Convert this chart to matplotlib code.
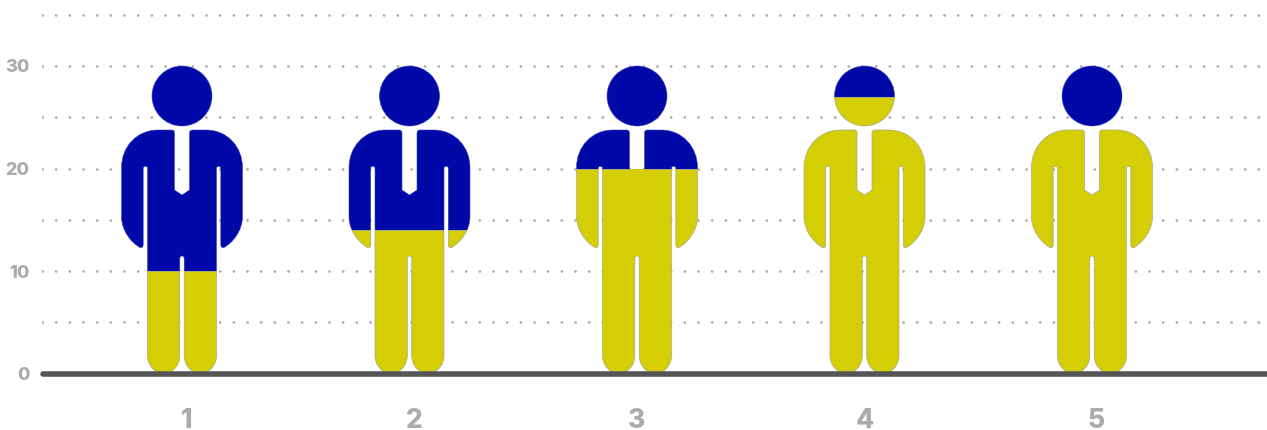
import matplotlib
matplotlib.use('Agg')
import matplotlib.pyplot as plt
from matplotlib.path import Path
from matplotlib.patches import PathPatch, Rectangle
from matplotlib.transforms import Affine2D

# chart data
categories = [1, 2, 3, 4, 5]
values = [10, 14, 20, 27, 24]
y_ticks = [0, 10, 20, 30]
y_minor = [5, 15, 25, 35]

# the tie gap only gets filled in on figure 3 of the reference
filled_gap = [False, False, True, False, False]
# the x labels sit slightly off the figure centres
x_label_pos = [1.02, 2.02, 3.0, 4.0, 5.02]

BLUE = '#0008A8'
YELLOW = '#D5CE04'
GREY_TEXT = '#ABABAB'
SEAM = '#A8A890'

W, H = 1267, 430
LEFT = 42      # pixel where the gridlines start
PX_X = 227.5   # pixels per category
PX_Y = 10.25   # pixels per value unit


# outline of the figure, pixels from the point between the feet
def person_path():
    L, C = Path.LINETO, Path.CURVE4
    half = [
        (L, (7.5, 183.5)), (L, (7.5, 240)),
        (C, (7.5, 242.5)), (C, (8.5, 243.5)), (C, (10.5, 243.5)),
        (L, (24, 243.5)),
        (C, (46, 243.5)), (C, (60.5, 226)), (C, (60.5, 206)),
        (L, (60.5, 157)),
        (C, (60.5, 143)), (C, (51, 131)), (C, (42, 126)),
        (C, (40, 125.5)), (C, (38.8, 126.5)), (C, (38.8, 129)),
        (L, (38.8, 205)),
        (C, (38.8, 208)), (C, (34.5, 208)), (C, (34.5, 205)),
        (L, (34.5, 18)),
        (C, (34.5, 8)), (C, (27, 0)), (C, (18.5, 0)),
        (C, (9.5, 0)), (C, (2.2, 8)), (C, (2.2, 18)),
        (L, (2.2, 114)),
        (C, (2.2, 117.5)), (C, (0.8, 117.5)), (C, (0, 117.5)),
    ]
    verts = [(0, 178.5)] + [p for _, p in half]
    codes = [Path.MOVETO] + [c for c, _ in half]
    # walk back up the left side, mirrored
    back = [(-x, y) for x, y in verts[-2::-1]]
    back_codes = codes[:0:-1]
    body = Path(verts + back + [(0, 178.5)],
                codes + back_codes + [Path.CLOSEPOLY])
    head = Path.circle((0, 277.5), 30)
    return Path.make_compound_path(body, head)


fig = plt.figure(figsize=(W / 100, H / 100), dpi=100)
ax = fig.add_axes([LEFT / W, (H - 373.5) / H, (W - LEFT) / W, 373.5 / H])
ax.set_xlim(1 - (182 - LEFT) / PX_X, 1 + (W - 182) / PX_X)
ax.set_ylim(0, 373.5 / PX_Y)

for s in ax.spines.values():
    s.set_visible(False)

# dotted gridlines
ax.set_yticks(y_ticks)
ax.set_yticks(y_minor, minor=True)
ax.tick_params(axis='y', which='both', length=0)
ax.set_axisbelow(True)
ax.grid(True, axis='y', which='both', color='#ABABAB', linewidth=2.0,
        linestyle=(0, (0.01, 4.91)), dash_capstyle='round')

person = person_path()
for cat, val, gap in zip(categories, values, filled_gap):
    tr = Affine2D().scale(1 / PX_X, 1 / PX_Y).translate(cat, 0) + ax.transData
    blue = PathPatch(person, facecolor=BLUE, edgecolor='#3A40C0', linewidth=0.4,
                     transform=tr, zorder=3)
    yellow = PathPatch(person, facecolor=YELLOW, edgecolor=SEAM, linewidth=0.5,
                       transform=tr, zorder=4)
    ax.add_patch(blue)
    ax.add_patch(yellow)
    yellow.set_clip_path(Rectangle((0, 0), W, val, transform=ax.transData))
    blue.set_clip_path(Rectangle((0, val), W, 40, transform=ax.transData))
    # thin seam where the two colours meet
    seam, = ax.plot([cat - 0.4, cat + 0.4], [val, val], color=SEAM, linewidth=0.6, zorder=5)
    seam.set_clip_path(person, tr)
    if gap:
        ax.add_patch(Rectangle((cat - 8 / PX_X, 17), 16 / PX_X, val - 17,
                               facecolor=YELLOW, edgecolor='none', zorder=4))

# baseline
x0, x1 = ax.get_xlim()
ax.plot([x0 + 1 / PX_X, x1], [0, 0], color='#555555', linewidth=4, solid_capstyle='round',
        clip_on=False, zorder=6)

# tick labels
ax.set_yticklabels([str(t) for t in y_ticks], fontsize=13, fontweight='heavy',
                   color=GREY_TEXT, family='Inter')
ax.tick_params(axis='y', pad=9)
ax.set_xticks(x_label_pos)
ax.set_xticklabels([str(c) for c in categories], fontsize=19, fontweight='heavy',
                   color=GREY_TEXT, family='Inter')
ax.tick_params(axis='x', length=0, pad=25)

fig.savefig('out.png', dpi=100)
